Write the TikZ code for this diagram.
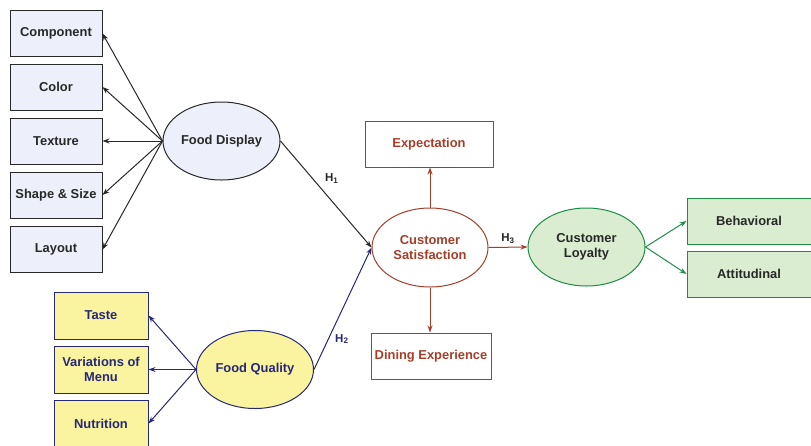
\documentclass[tikz,border=0pt]{standalone}
\usepackage{fontspec}
\setmainfont{Liberation Sans}
\usetikzlibrary{shapes.geometric}
\usetikzlibrary{arrows,arrows.meta}
\definecolor{inkgray}{RGB}{40,40,40}
\definecolor{displayfill}{RGB}{237,240,250}
\definecolor{qualfill}{RGB}{250,244,160}
\definecolor{navy}{RGB}{38,40,120}
\definecolor{rust}{RGB}{165,62,40}
\definecolor{loyfill}{RGB}{218,237,208}
\definecolor{leaf}{RGB}{30,140,70}

\begin{document}
\begin{tikzpicture}[x=1pt, y=-1pt, >={Stealth[length=7pt,width=5pt]}, line width=1pt,
	font=\fontsize{12.9}{14.5}\selectfont\bfseries,
	box/.style={draw, rectangle, inner sep=1pt, align=center},
	latent/.style={draw, ellipse, inner sep=0pt, align=center, minimum width=117pt, minimum height=78pt},
	hyp/.style={font=\fontsize{11.5}{13}\selectfont\bfseries}]

	\useasboundingbox (0,0) rectangle (811,445);

	% food display and its indicators
	\node[latent, fill=displayfill, draw=inkgray, text=inkgray] (disp) at (221.5,141) {Food Display};
	\foreach \name/\txt/\y in {comp/Component/33.5, col/Color/87, tex/Texture/141, shape/Shape \& Size/195, lay/Layout/249.5}{
		\node[box, fill=displayfill, draw=inkgray, text=inkgray, minimum width=92pt, minimum height=46pt] (\name) at (56,\y) {\txt};
		\draw[->, inkgray] (disp.west) -- (\name.east);
	}

	% food quality and its indicators
	\node[latent, fill=qualfill, draw=navy, text=navy] (qual) at (255,369.5) {Food Quality};
	\foreach \name/\txt/\y in {taste/Taste/315.5, menu/{Variations of\\Menu}/369.5, nutr/Nutrition/423.5}{
		\node[box, fill=qualfill, draw=navy, text=navy, minimum width=94pt, minimum height=47pt] (\name) at (101,\y) {\txt};
		\draw[->, navy] (qual.west) -- (\name.east);
	}

	% customer satisfaction
	\node[latent, fill=white, draw=rust, text=rust, minimum width=116pt, minimum height=79pt] (sat) at (430,247.5) {Customer\\Satisfaction};
	\node[box, draw=rust, text=rust, minimum width=128pt, minimum height=46pt] (expect) at (429,144) {Expectation};
	\node[box, draw=rust, text=rust, minimum width=120pt, minimum height=46pt] (dining) at (431,356) {Dining Experience};
	\draw[->, rust] (sat.north) -- (sat.north |- expect.south);
	\draw[->, rust] (sat.south) -- (sat.south |- dining.north);

	% customer loyalty
	\node[latent, fill=loyfill, draw=leaf, text=inkgray] (loy) at (586.5,247) {Customer\\Loyalty};
	\node[box, fill=loyfill, draw=leaf, text=inkgray, minimum width=124pt, minimum height=46pt] (behav) at (749,221) {Behavioral};
	\node[box, fill=loyfill, draw=leaf, text=inkgray, minimum width=124pt, minimum height=46pt] (attit) at (749,274) {Attitudinal};
	\draw[->, leaf] (loy.east) -- (behav.west);
	\draw[->, leaf] (loy.east) -- (attit.west);

	% hypotheses
	\draw[->, inkgray] (disp.east) -- (sat.west) node[pos=0.35, right=9pt, hyp, text=inkgray] {H\textsubscript{1}};
	\draw[->, navy] (qual.east) -- (sat.west) node[pos=0.25, right=3pt, hyp, text=navy] {H\textsubscript{2}};
	\draw[->, rust] (sat.east) -- (loy.west) node[midway, above, hyp, text=inkgray] {H\textsubscript{3}};

\end{tikzpicture}
\end{document}
